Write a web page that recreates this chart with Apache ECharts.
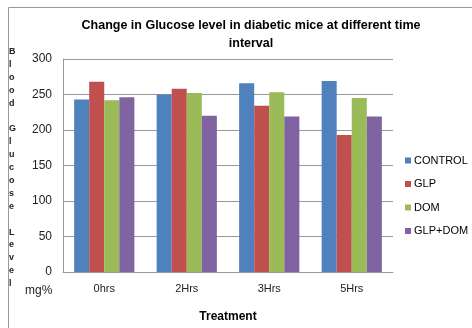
<!DOCTYPE html>
<html><head><meta charset="utf-8">
<script src="https://cdn.jsdelivr.net/npm/echarts@6/dist/echarts.min.js"></script>
<style>html,body{margin:0;padding:0;background:#fff}#c{width:472px;height:328px}</style>
</head><body><div id="c"></div>
<script>
const categories = ['0hrs', '2Hrs', '3Hrs', '5Hrs'];
const control = [243, 250, 266, 269];
const glp = [268, 258, 234, 193];
const dom = [242, 252, 253, 245];
const glpDom = [246, 220, 219, 219];
const seriesNames = ['CONTROL', 'GLP', 'DOM', 'GLP+DOM'];
const colors = ['#4F81BD', '#C0504D', '#9BBB59', '#8064A2'];
const yTicks = { min: 0, max: 300, interval: 50 };

const font = 'Liberation Sans, Arial, sans-serif';
const chart = echarts.init(document.getElementById('c'));
const data = [control, glp, dom, glpDom];
chart.setOption({
  animation: false,
  title: {
    text: 'Change in Glucose level in diabetic mice at different time\ninterval',
    left: 246, top: 12, textAlign: 'center',
    textStyle: { fontFamily: font, fontSize: 12.5, fontWeight: 'bold', color: '#000', lineHeight: 18 }
  },
  legend: {
    orient: 'vertical', left: 400, top: 150, itemGap: 12.5,
    itemWidth: 6, itemHeight: 6, icon: 'rect',
    textStyle: { fontFamily: font, fontSize: 11, color: '#000', padding: [0, 0, 0, -2] },
    data: seriesNames
  },
  grid: { left: 63, right: 79, top: 59, bottom: 52 },
  xAxis: {
    type: 'category', data: categories,
    name: 'Treatment', nameLocation: 'middle', nameGap: 39,
    nameTextStyle: { fontFamily: font, fontSize: 12, fontWeight: 'bold', color: '#000' },
    axisLine: { lineStyle: { color: '#999', width: 1 } },
    axisTick: { show: false },
    axisLabel: { fontFamily: font, fontSize: 11, color: '#222', margin: 11 }
  },
  yAxis: {
    type: 'value', min: yTicks.min, max: yTicks.max, interval: yTicks.interval,
    axisLine: { show: true, lineStyle: { color: '#999', width: 1 } },
    axisTick: { show: false },
    splitLine: { lineStyle: { color: '#999', width: 1 } },
    axisLabel: { fontFamily: font, fontSize: 12, color: '#222', margin: 11 }
  },
  series: seriesNames.map((n, i) => ({
    name: n, type: 'bar', data: data[i],
    barGap: '0%', barCategoryGap: '27%',
    itemStyle: { color: colors[i] }
  })),
  graphic: [
    { type: 'rect', shape: { x: 8.5, y: 7.5, width: 480, height: 340 }, style: { fill: null, stroke: '#999', lineWidth: 1 }, silent: true },
    { type: 'text', left: 9, top: 45, style: {
      text: 'B\nl\no\no\nd\n\nG\nl\nu\nc\no\ns\ne\n\nL\ne\nv\ne\nl',
      fontFamily: font, fontSize: 9, fontWeight: 'bold', lineHeight: 12.9, fill: '#222', align: 'left' } },
    { type: 'text', left: 25, top: 285, style: { text: 'mg%', fontFamily: font, fontSize: 12, fill: '#222' } }
  ]
});
</script></body></html>
